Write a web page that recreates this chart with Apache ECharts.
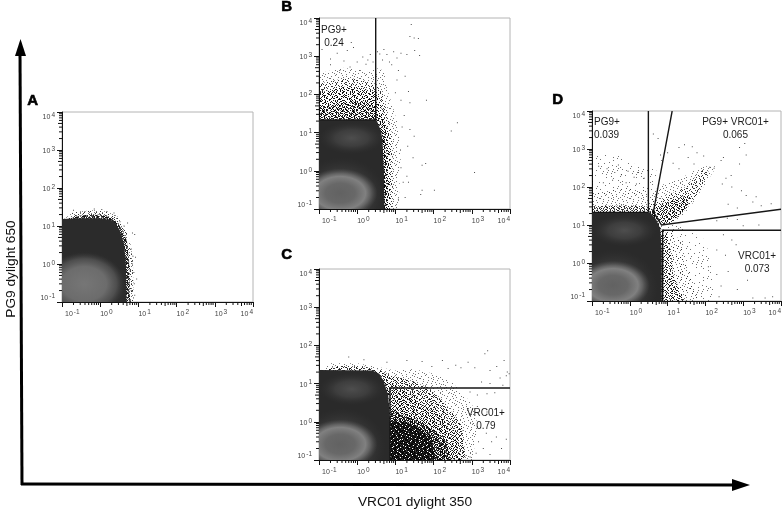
<!DOCTYPE html>
<html><head><meta charset="utf-8">
<style>html,body{margin:0;padding:0;background:#fff}#c{width:784px;height:509px}</style>
<script src="https://cdn.jsdelivr.net/npm/echarts@6/dist/echarts.min.js"></script>
</head><body><div id="c"></div>
<script>
// ---- axis ticks
const tickValues = [0.1, 1, 10, 100, 1000, 10000];
const tickExponents = ['-1', '0', '1', '2', '3', '4'];
const minorTickValues = [0.2,0.3,0.4,0.5,0.6,0.7,0.8,0.9,2,3,4,5,6,7,8,9,20,30,40,50,60,70,80,90,200,300,400,500,600,700,800,900,2000,3000,4000,5000,6000,7000,8000,9000];

// ---- density outlines: [VRC01, PG9]
const coreA = [[.05,.05],[4.9,.05],[4.7,1],[4.2,3.5],[3.2,8],[2.2,14],[1,16],[.3,16],[.05,15]];
const coreB = [[.05,.05],[5.2,.05],[5,1],[4.6,6],[4.2,11],[3.2,21.5],[.05,21.5]];
const coreC = [[.05,.05],[7.2,.05],[7.2,1],[6.5,5],[5,11],[3.8,18],[2.5,22],[.05,23]];
const coreD = [[.05,.05],[7,.05],[7,2],[6.4,8],[5,14],[3.4,21.5],[.05,21.5]];

// ---- soft density clouds: [centre VRC01, centre PG9, edge VRC01, edge PG9]
const upperCloud = [.72, 7.2, 5.2, 19];
const lowerCloud = [.4, .22, 5.6, 2.3];
const ringCloud = [.36, .26, 3.4, 1.15];
const cloudA = [.38, .3, 4.4, 2];

// ---- stippled zones (sparse events), outlines
const fringeA1 = [[.1,14],[.2,23],[.6,26],[1.5,24],[2.8,18],[4.5,9],[6,4],[7.2,1.2],[7.5,.1],[4,.1],[.1,.1]];
const fringeA2 = [[.1,14],[.3,19],[1,20],[2.2,16],[3.6,9],[5,4],[5.7,1.2],[6,.1],[4,.1],[.1,.1]];
const pg9B1 = [[.1,20],[.1,350],[.4,500],[1,450],[2,380],[3,500],[5,420],[6,150],[9,40],[12,14],[14,3],[12,.1],[3,.1]];
const pg9Bm = [[.1,20],[.1,190],[.5,270],[1.2,250],[3,190],[4.5,110],[6,35],[8,10],[8.5,1],[8.5,.1],[3,.1]];
const pg9B2 = [[.1,20],[.1,110],[.5,160],[1.2,150],[3,110],[4,60],[5,22],[7,8],[7.5,1],[7.2,.1],[3,.1]];
const pg9B3 = [[.1,20],[.1,45],[.6,65],[1.5,65],[3,50],[3.5,25],[5.5,10],[6.2,1.2],[6.2,.1],[3,.1]];
const fringeC1 = [[.1,20],[.2,34],[1,34],[3,28],[10,22],[30,24],[100,18],[300,11],[1000,3],[1500,.7],[1000,.1],[5,.1]];
const fringeC2 = [[.1,20],[.3,29],[1.5,28],[4,22],[8,16],[25,12],[70,8],[200,3],[550,.8],[700,.1],[5,.1]];
const fringeC3 = [[5,20],[8,11],[20,6],[50,3],[150,1.4],[420,.45],[520,.1],[5,.1]];
const fringeC4 = [[7,2.2],[15,1.5],[40,1.1],[100,.6],[220,.3],[280,.1],[7,.1]];
const fringeC5 = [[7,1.05],[20,.98],[50,.62],[90,.36],[110,.1],[7,.1]];
const topD1 = [[.1,20],[.1,70],[.8,90],[3,80],[5,35],[6,14],[8.5,3],[9,.1],[4,.1]];
const topD2 = [[.1,20],[.1,31],[1,33],[3.4,30],[5,16],[7.5,6],[7.5,.1],[4,.1]];
const diagD1 = [[3.2,22],[4,70],[8,120],[25,180],[80,350],[200,350],[100,120],[40,30],[20,14],[9,10]];
const diagD2 = [[3.5,20],[5,40],[10,60],[30,100],[80,280],[130,250],[70,80],[30,25],[14,12],[7,10]];
const diagD3 = [[3.8,18],[5,30],[10,40],[25,55],[40,60],[35,30],[18,16],[8,11]];
const rightD1 = [[6.5,12],[12,14],[30,8],[100,4],[140,1],[170,.1],[6,.1]];
const rightD2 = [[6.5,8],[14,7],[24,3],[32,1],[45,.35],[65,.1],[6,.1]];
const rightD3 = [[6.5,7],[10,6],[12,2],[14,.5],[28,.1],[6,.1]];
const upperD = [[.1,60],[.1,700],[.5,700],[1,450],[3,300],[5,300],[5,60]];

// ---- individual outlying events
const eventsA = [[.2,26],[.4,24],[.7,28],[1.1,27],[1.5,24],[2.3,22],[3.3,13],[4.2,10],[5.2,12],[7,6.5],[8,6],[6.5,2.5],[7.2,1.6],[8.4,1.5],[7,1],[6.2,.7],[7.6,.6],[9,.4],[7.8,.3],[6.5,.2],[8,.15]];
const eventsB = [[.12,1500],[.2,850],[.3,1200],[.45,750],[.55,1400],[.8,1700],[1,700],[.7,2300],[1.4,950],[1.7,620],[2.2,1100],[2.6,700],[.2,600],[.35,420],[.65,520],[1.2,420],[1.9,800],[3.4,1300],[3.9,1150],[5,1500],[6,1100],[4.6,800],[7,700],[8,600],[9,1300],[11,900],[14,1200],[20,1100],[24,3300],[31,3000],[26,6800],[40,2900],[32,1400],[43,1050],[12,420],[18,300],[22,120],[24,60],[14,70],[17,28],[10,110],[11,240],[15,14],[24,12],[31,8],[65,70],[290,11],[420,18],[1180,.9],[62,1.55],[50,.31],[105,.31],[46,.24],[22,.5],[20,.72],[29,2.2],[21,4.4],[14,1.2],[16,.5],[18,.2],[12,.18],[50,1.4]];
const eventsC = [[.6,50],[1.5,42],[6,36],[20,40],[50,38],[90,28],[170,40],[240,25],[380,30],[520,26],[800,36],[1200,26],[2200,60],[3000,22],[4500,28],[7000,40],[8500,20],[2600,72],[5500,14],[8000,16],[1800,11],[3000,10],[6500,9],[9500,18],[900,6],[1400,5],[2500,5.4],[4000,5.8],[2500,1.8],[4300,2.2],[6000,1.6],[1400,2.5],[1100,.9],[1700,.7],[2400,.5],[3300,.3],[4400,.4],[6000,.2],[8000,.35],[1500,.3],[2000,.2],[3000,.14],[1300,.15],[900,.12]];
const eventsD = [[.25,300],[.4,240],[.6,210],[.9,260],[1.3,180],[1.7,240],[2.4,170],[.15,350],[.5,380],[.35,150],[.8,130],[1.5,120],[.2,130],[4.2,2500],[5.6,1900],[6.5,700],[7,500],[10,800],[20,1100],[28,1300],[45,1150],[60,800],[90,650],[14,420],[20,300],[35,600],[50,400],[130,330],[170,310],[260,500],[300,600],[800,1100],[1100,1400],[1200,700],[800,400],[350,170],[480,200],[280,120],[500,100],[900,80],[1200,60],[2200,55],[400,35],[700,28],[1800,40],[3000,32],[5500,36],[380,15],[700,14],[1000,9.5],[2600,10],[200,13],[300,5.5],[500,4],[650,3],[200,2.2],[340,1.6],[120,.8],[200,.5],[260,.25],[400,.6],[700,.2],[1300,.35],[230,.13],[1800,.12],[3800,.12],[6000,.13]];

// ---- gates [[x,y],...] in data values
const gateB = [[[.1,21.5],[3.05,21.5]],[[3.05,21.5],[3.05,10000]]];
const gateC = [[[7.2,.1],[7.2,7.7],[10000,7.7]]];
const gateD = [[[.1,21.5],[3.1,21.5]],[[3.1,21.5],[3.1,10000]],[[13.2,10000],[4.2,22],[6.9,10],[10000,25.9]],[[7.4,.1],[7.4,7.25],[10000,7.25]]];

// ---- gate captions and their anchors in data values
const labelsB = [['PG9+\n0.24', .247, 3160, 'center']];
const labelsC = [['VRC01+\n0.79', 2340, 1.11, 'center']];
const labelsD = [['PG9+\n0.039', .113, 3350, 'left'],['PG9+ VRC01+\n0.065', 625, 3350, 'center'],['VRC01+\n0.073', 2340, 1, 'center']];

const panelLetters = ['A','B','C','D'];
const xAxisTitle = 'VRC01 dylight 350';
const yAxisTitle = 'PG9 dylight 650';

// ---- hand-typed speckle texture thresholds
const speckleRows = [
'730915628407193562084719360285','158264097315820476931508264719','492708153964027318590427136850',
'605381742096153824670931584207','817046935218470695132608479321','243590168734926107845392016578',
'960427315680251943076815243096','371658024793608125497036182745','528019463172845360912754680139',
'046735981206739481325067198342','893260417548102697430816925760','614572809321465038762194503187',
'270938156047813925608347219456','485106723690274156973520841603','139847062581936402185769304728',
'762350948126057893241608735914','908413675239481607596132087245','354276190865302741860953416082',
'081965327410768259034271698530','627083514392906145378806152479',
'495712860936147520682941370186','713048296581032674159720463859','268591403627895013746382195074',
'940367152840261789503416827631','152786093475638102964050731298','836240971526094371825169403767',
'501972384160472938610783256914','379614025897216540397248160583','624085739142703865124596038172',
'087351296408561927436011875349'];

function tile(level, keep) {
  const n = 30, cv = document.createElement('canvas');
  cv.width = n; cv.height = n;
  const g = cv.getContext('2d');
  for (let r = 0; r < n; r++) for (let c = 0; c < n; c++) {
    const d = +speckleRows[r][c];
    if (d < level && (keep === 1 || (r + 2 * c) % keep === 0)) {
      g.fillStyle = d % 3 === 0 ? 'rgba(0,0,0,.55)' : d % 3 === 1 ? 'rgba(0,0,0,.78)' : 'rgba(10,10,10,.95)';
      g.fillRect(c, r, 1, 1);
    }
  }
  return { image: cv, repeat: 'repeat' };
}
const S = { s1: tile(1,3), s2: tile(1,1), s3: tile(2,1), s4: tile(3,1), s5: tile(4,1), s6: tile(5,1), s7: tile(7,1), s8: tile(9,1) };

const radial = stops => ({ type:'radial', x:.5, y:.5, r:.5, colorStops:stops.map(s => ({ offset:s[0], color:s[1] })) });
const upperFill = radial([[0,'rgba(78,78,78,1)'],[.5,'rgba(70,70,70,.7)'],[1,'rgba(50,50,50,0)']]);
const lowerFill = radial([[0,'rgba(80,80,80,1)'],[.6,'rgba(68,68,68,.7)'],[1,'rgba(50,50,50,0)']]);
const ringFill = radial([[0,'rgba(98,98,98,1)'],[.4,'rgba(104,104,104,1)'],[.68,'rgba(128,128,128,1)'],[.8,'rgba(108,108,108,.8)'],[1,'rgba(80,80,80,0)']]);
const fillA = radial([[0,'rgba(118,118,118,1)'],[.55,'rgba(108,108,108,1)'],[.8,'rgba(84,84,84,.8)'],[1,'rgba(60,60,60,0)']]);

const poly = (pts, fill) => ({ pts, fill });
const cloud = (spec, fill) => ({ spec, fill });
const fullLayers = [cloud(upperCloud, upperFill), cloud(lowerCloud, lowerFill), cloud(ringCloud, ringFill)];

const panels = [
  { letter:0, rect:[62,112,191,190], events:eventsA, gates:[], labels:[],
    layers:[poly(fringeA1,S.s3),poly(fringeA2,S.s7),poly(coreA,'#2b2b2b'),cloud(lowerCloud,lowerFill),cloud(cloudA,fillA)] },
  { letter:1, rect:[319,18,191,191], events:eventsB, gates:gateB, labels:labelsB,
    layers:[poly(pg9B1,S.s2),poly(pg9Bm,S.s3),poly(pg9B2,S.s4),poly(pg9B3,S.s6),poly(coreB,'#2a2a2a'),...fullLayers] },
  { letter:2, rect:[319,269,191,191], events:eventsC, gates:gateC, labels:labelsC,
    layers:[poly(fringeC1,S.s2),poly(fringeC2,S.s4),poly(fringeC3,S.s5),poly(fringeC4,S.s7),poly(fringeC5,S.s8),poly(coreC,'#2a2a2a'),...fullLayers] },
  { letter:3, rect:[592,111,191,190], events:eventsD, gates:gateD, labels:labelsD,
    layers:[poly(upperD,S.s1),poly(topD1,S.s2),poly(topD2,S.s5),poly(diagD1,S.s2),poly(diagD2,S.s3),poly(diagD3,S.s5),poly(rightD1,S.s1),poly(rightD2,S.s2),poly(rightD3,S.s4),poly(coreD,'#2a2a2a'),...fullLayers] }
];

function layerElement(l, api) {
  if (l.pts) return { type:'polygon', shape:{ points:l.pts.map(q => api.coord(q)) }, style:{ fill:l.fill } };
  const c = api.coord([l.spec[0], l.spec[1]]), e = api.coord([l.spec[2], l.spec[3]]);
  return { type:'circle', x:c[0], y:c[1], scaleX:Math.abs(e[0]-c[0])/50, scaleY:Math.abs(e[1]-c[1])/50, shape:{ cx:0, cy:0, r:50 }, style:{ fill:l.fill } };
}

const labelRich = {
  g:{width:3,height:1}, a:{fontSize:7,color:'#444',fontFamily:'Liberation Sans',verticalAlign:'bottom',lineHeight:9},
  s:{fontSize:6.5,color:'#444',fontFamily:'Liberation Sans',verticalAlign:'top',lineHeight:9,padding:[0,0,3,1]}
};
const tickIndex = v => tickValues.findIndex(t => Math.abs(Math.log10(t) - Math.log10(v)) < .01);
const fmtY = v => { const i = tickIndex(v); return i < 0 ? '' : '{a|10}{s|' + tickExponents[i] + '}'; };
const fmtX = v => { const i = tickIndex(v); return i < 0 ? '' : (i === 0 ? '{g|}' : '') + '{a|10}{s|' + tickExponents[i] + '}'; };
const axisBase = { type:'log', logBase:10, min:.1, max:10000, splitLine:{show:false}, minorTick:{show:false}, minorSplitLine:{show:false},
  axisLine:{show:true,onZero:false,lineStyle:{color:'#111',width:1}}, axisTick:{show:true,length:5,lineStyle:{color:'#111',width:1}} };

const grids=[], xAxes=[], yAxes=[], series=[], graphics=[];
panels.forEach((p, i) => {
  grids.push({ left:p.rect[0], top:p.rect[1], width:p.rect[2], height:p.rect[3], show:true, borderColor:'#b4b4b4', borderWidth:1, backgroundColor:'transparent' });
  xAxes.push({ ...axisBase, gridIndex:i, axisLabel:{ formatter:fmtX, rich:labelRich, margin:7, align:'left', alignMaxLabel:'right', showMinLabel:true, showMaxLabel:true, hideOverlap:false } });
  yAxes.push({ ...axisBase, gridIndex:i, axisLabel:{ formatter:fmtY, rich:labelRich, margin:7, verticalAlignMaxLabel:'top', verticalAlignMinLabel:'bottom', showMinLabel:true, showMaxLabel:true, hideOverlap:false } });
  series.push({ type:'custom', xAxisIndex:i, yAxisIndex:i, clip:true, silent:true, animation:false, z:2, data:[[1,1]],
    renderItem:(params, api) => ({ type:'group', children:p.layers.map(l => layerElement(l, api)) }) });
  series.push({ type:'scatter', xAxisIndex:i, yAxisIndex:i, data:p.events, symbol:'rect', symbolSize:1, silent:true, animation:false, z:3, itemStyle:{color:'#222'} });
  series.push({ type:'custom', xAxisIndex:i, yAxisIndex:i, clip:true, silent:true, animation:false, z:5, data:[[1,1]],
    renderItem:(params, api) => ({ type:'group', children:p.gates.map(g => ({
      type:'polyline', shape:{ points:g.map(q => api.coord(q)) }, style:{ fill:null, stroke:'#161616', lineWidth:1.4 } })) }) });
  series.push({ type:'custom', xAxisIndex:i, yAxisIndex:i, clip:false, silent:true, animation:false, z:6, data:p.labels.map(l => [l[1],l[2]]),
    renderItem:(params, api) => { const l = p.labels[params.dataIndex], c = api.coord([l[1],l[2]]);
      return { type:'text', style:{ text:l[0], x:c[0], y:c[1], align:l[3], verticalAlign:'middle', fill:'#1c1c1c', font:'10px "Liberation Sans"', lineHeight:13 } }; } });
  series.push({ type:'custom', xAxisIndex:i, yAxisIndex:i, clip:false, silent:true, animation:false, z:4, data:minorTickValues.map(v => [v,v]),
    renderItem:(params, api) => { const v = api.value(0), c = api.coord([v,v]), cs = params.coordSys, st = { stroke:'#111', lineWidth:1 };
      return { type:'group', children:[
        { type:'line', shape:{ x1:c[0], y1:cs.y+cs.height, x2:c[0], y2:cs.y+cs.height+(Math.abs(Math.log10(v)%1-.699)<.01?4:3) }, style:st },
        { type:'line', shape:{ x1:cs.x, y1:c[1], x2:cs.x-(Math.abs(Math.log10(v)%1-.699)<.01?4:3), y2:c[1] }, style:st } ] }; } });
  const pos = [[27,93],[281,-1],[281,247],[552,92]][i];
  graphics.push({ type:'text', left:pos[0], top:pos[1], style:{ text:panelLetters[p.letter], font:'900 15px "Liberation Sans"', fill:'#000', stroke:'#000', lineWidth:.6 } });
});

graphics.push(
  { type:'line', shape:{ x1:22, y1:485, x2:20, y2:52 }, style:{ stroke:'#000', lineWidth:3 } },
  { type:'polygon', shape:{ points:[[20.5,39],[15,56],[26,56]] }, style:{ fill:'#000' } },
  { type:'line', shape:{ x1:21, y1:484, x2:736, y2:485 }, style:{ stroke:'#000', lineWidth:3 } },
  { type:'polygon', shape:{ points:[[750,485],[732,479],[732,491]] }, style:{ fill:'#000' } },
  { type:'text', x:415, y:502, style:{ text:xAxisTitle, align:'center', verticalAlign:'middle', font:'13.7px "Liberation Sans"', fill:'#111' } },
  { type:'text', x:11, y:269, rotation:Math.PI/2, style:{ text:yAxisTitle, align:'center', verticalAlign:'middle', font:'13.7px "Liberation Sans"', fill:'#111' } }
);

const chart = echarts.init(document.getElementById('c'), null, { renderer:'canvas' });
chart.setOption({ animation:false, backgroundColor:'#fff', grid:grids, xAxis:xAxes, yAxis:yAxes, series, graphic:graphics, tooltip:{show:false}, legend:{show:false} });
</script></body></html>
